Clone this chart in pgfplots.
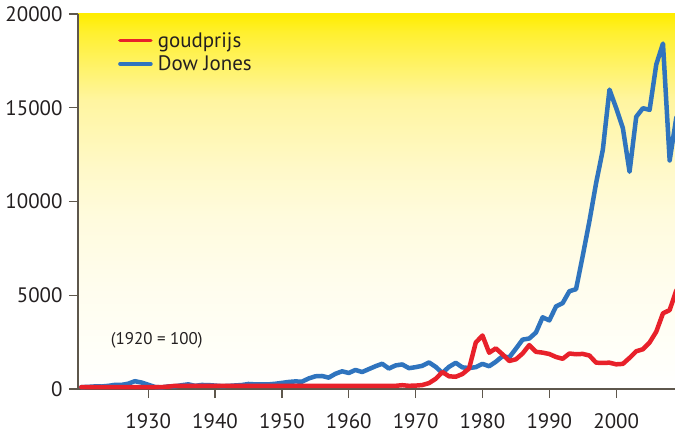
\documentclass[border=0pt]{standalone}
\usepackage{fontspec}
\setmainfont{PT Sans}
\usepackage{pgfplots}
\pgfplotsset{compat=1.18}

\definecolor{goud}{HTML}{E8212A}
\definecolor{dow}{HTML}{2F74BE}
\definecolor{asgrijs}{HTML}{5E574C}
\definecolor{tekst}{HTML}{231F20}
\definecolor{g0}{HTML}{FFED00}
\definecolor{g1}{HTML}{FFF030}
\definecolor{g2}{HTML}{FFF5A0}
\definecolor{g3}{HTML}{FFF9C8}
\definecolor{g4}{HTML}{FFFBDD}
\definecolor{g5}{HTML}{FFFDEE}
\definecolor{g6}{HTML}{FFFFF8}
% stops between 25bp (bottom of axis) and 75bp (top of axis)
\pgfdeclareverticalshading{achtergrond}{100bp}{%
  color(0bp)=(white); color(25bp)=(white); color(30bp)=(g6);
  color(38.5bp)=(g5); color(48bp)=(g4); color(54.5bp)=(g3);
  color(63.5bp)=(g2); color(72.5bp)=(g1); color(75bp)=(g0);
  color(100bp)=(g0)}

\begin{document}
\begin{tikzpicture}
\begin{axis}[
    scale only axis,
    width=597bp, height=375bp,
    xmin=1919.5, xmax=2008.8,
    ymin=0, ymax=20000,
    clip=false,
    axis x line=bottom, axis y line=left,
    axis line style={asgrijs, line width=1.6bp, -},
    tick align=outside,
    major tick length=9bp,
    tick style={asgrijs, line width=1.2bp},
    xtick={1930,1940,...,2000},
    ytick={0,5000,...,20000},
    minor tick num=0,
    scaled y ticks=false,
    /pgf/number format/set thousands separator={},
    /pgf/number format/assume math mode=true,
    ticklabel style={font=\fontsize{21}{23}\selectfont, text=tekst},
    xticklabel style={inner ysep=0pt, yshift=-15bp},
    yticklabel style={xshift=-3bp},
    axis background/.style={shading=achtergrond},
    legend style={draw=none, fill=none, at={(0.062,0.962)}, anchor=north west,
      font=\fontsize{21}{23}\selectfont, text=tekst, row sep=3bp},
    legend cell align=left,
    legend image code/.code={\draw[#1, line width=3.5bp] (0bp,0bp) -- (31bp,0bp);
      \path[draw=none, fill=none] (31bp,0bp) -- (36bp,0bp);},
    reverse legend,
    every axis plot/.append style={line width=4.5bp, line join=round, line cap=round},
]
\addplot[dow] coordinates {
(1920,100) (1921,113) (1922,137) (1923,133) (1924,167) (1925,218) (1926,218)
(1927,281) (1928,417) (1929,345) (1930,229) (1931,108) (1932,83) (1933,138)
(1934,144) (1935,200) (1936,250) (1937,168) (1938,215) (1939,208) (1940,182)
(1941,154) (1942,165) (1943,189) (1944,211) (1945,268) (1946,246) (1947,251)
(1948,246) (1949,278) (1950,326) (1951,374) (1952,405) (1953,390) (1954,561)
(1955,678) (1956,694) (1957,605) (1958,811) (1959,943) (1960,855) (1961,1015)
(1962,905) (1963,1060) (1964,1214) (1965,1346) (1966,1092) (1967,1257)
(1968,1311) (1969,1111) (1970,1165) (1971,1236) (1972,1417) (1973,1182)
(1974,856) (1975,1183) (1976,1396) (1977,1154) (1978,1118) (1979,1165)
(1980,1339) (1981,1215) (1982,1454) (1983,1748) (1984,1683) (1985,2149)
(1986,2633) (1987,2693) (1988,3012) (1989,3824) (1990,3658) (1991,4401)
(1992,4585) (1993,5214) (1994,5325) (1995,7107) (1996,8956) (1997,10983)
(1998,12751) (1999,15968) (2000,14982) (2001,13919) (2002,11586)
(2003,14519) (2004,14976) (2005,14886) (2006,17310) (2007,18424)
(2008,12189) (2009,14483)
};
\addlegendentry{Dow Jones}
\addplot[goud] coordinates {
(1920,100) (1932,100) (1933,126) (1934,169) (1967,169) (1968,203) (1969,170)
(1970,181) (1971,211) (1972,314) (1973,542) (1974,905) (1975,677) (1976,653)
(1977,798) (1978,1093) (1979,2477) (1980,2854) (1981,1935) (1982,2167)
(1983,1848) (1984,1495) (1985,1582) (1986,1892) (1987,2342) (1988,1984)
(1989,1940) (1990,1867) (1991,1708) (1992,1611) (1993,1892) (1994,1853)
(1995,1872) (1996,1785) (1997,1403) (1998,1393) (1999,1403) (2000,1316)
(2001,1340) (2002,1659) (2003,2013) (2004,2119) (2005,2482) (2006,3058)
(2007,4035) (2008,4209) (2009,5264)
};
\addlegendentry{goudprijs}
\node[anchor=west, font=\fontsize{17}{19}\selectfont, text=tekst, inner sep=0pt]
  at (axis cs:1924.4,2600) {(1920 = 100)};
\end{axis}
\pgfresetboundingbox
\path[use as bounding box] (-78bp,-44bp) rectangle (597bp,389bp);
\end{tikzpicture}
\end{document}
